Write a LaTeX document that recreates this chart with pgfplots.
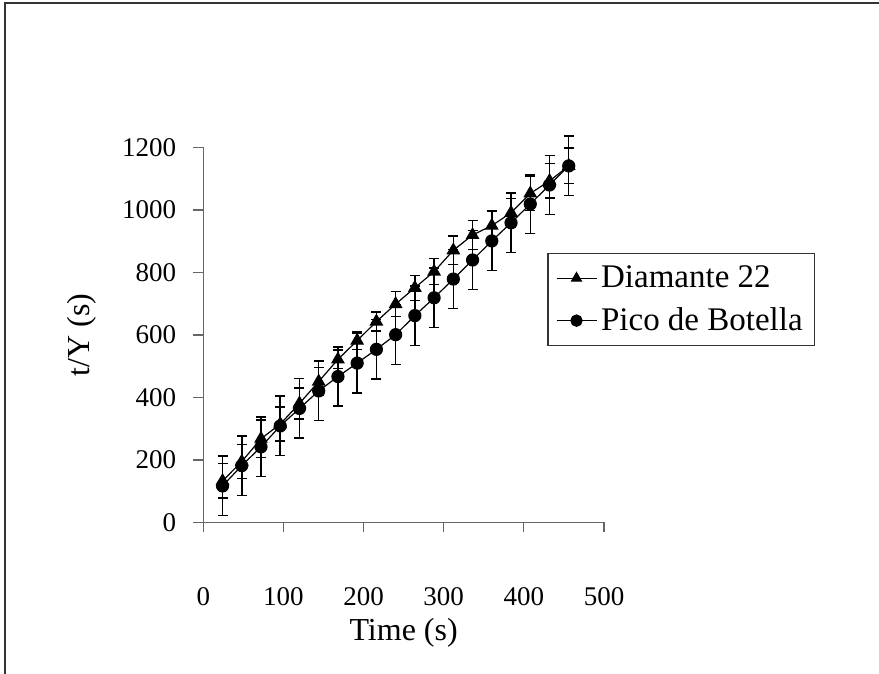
\documentclass[border=0pt]{standalone}
\usepackage{pgfplots}
\pgfplotsset{compat=1.18}
\usepackage{fontspec}
\setmainfont{Liberation Serif}

% Diamante 22: x, t/Y, error
\pgfplotstableread{
x y e
24 133 55
48 195 55
72 268 60
96 315 55
120 381 50
144 451 45
168 522 30
192 582 28
216 643 30
240 699 40
264 751 40
288 803 42
312 871 45
336 920 47
360 950 45
384 991 45
408 1053 55
432 1093 55
456 1141 57
}\diamante

% Pico de Botella
\pgfplotstableread{
x y e
24 117 95
48 182 95
72 242 95
96 309 95
120 365 95
144 421 95
168 467 95
192 510 95
216 554 95
240 601 95
264 662 95
288 719 95
312 779 95
336 840 95
360 901 95
384 959 95
408 1019 95
432 1080 95
456 1141 95
}\pico

\begin{document}
\begin{tikzpicture}
\draw[line width=1pt, black!80] (2.5pt,-5pt) -- (2.5pt,335.5pt) -- (445pt,335.5pt);
\begin{axis}[
  at={(101.65pt,75.75pt)}, anchor=origin,
  scale only axis, width=200.35pt, height=187.5pt,
  xmin=0, xmax=500, ymin=0, ymax=1200,
  xtick={0,100,...,500}, ytick={0,200,...,1200},
  axis x line*=bottom, axis y line*=left,
  axis line style={black!60, line width=0.6pt, -},
  tick style={black!60, line width=0.6pt},
  tick align=outside, major tick length=5pt,
  /pgf/number format/assume math mode=true,
  /pgf/number format/1000 sep={},
  tick label style={font=\fontsize{13.5}{16}\selectfont, black},
  xticklabel style={anchor=center, yshift=-32pt},
  yticklabel style={anchor=east, xshift=-5pt},
  xlabel={Time (s)}, ylabel={t/Y (s)},
  label style={font=\fontsize{16}{19}\selectfont},
  xlabel style={at={(axis description cs:0.5,-0.295)}, anchor=center},
  ylabel style={at={(axis description cs:-0.302,0.5)}, anchor=center, rotate=0},
  legend style={at={(axis description cs:0.8585,0.718)}, anchor=north west,
    draw=black!80, line width=0.6pt, font=\fontsize{16.5}{20}\selectfont,
    inner xsep=4pt, inner ysep=4pt, row sep=4.5pt},
  legend cell align=left,
  legend image code/.code={
    \draw[#1, mark repeat=2, mark phase=2, mark size=2.8pt]
      plot coordinates {(0pt,0pt) (10pt,0pt) (20pt,0pt)};},
  clip=false,
]
\addplot[black, line width=0.6pt, mark=triangle*, mark size=3.4pt,
  error bars/.cd, y dir=both, y explicit,
  error bar style={black, line width=0.75pt},
  error mark options={rotate=90, mark size=2.5pt, line width=0.75pt}]
  table[x=x, y=y, y error=e] {\diamante};
\addlegendentry{Diamante 22}
\addplot[black, line width=0.6pt, mark=*, mark size=3pt,
  error bars/.cd, y dir=both, y explicit,
  error bar style={black, line width=0.75pt},
  error mark options={rotate=90, mark size=2.5pt, line width=0.75pt}]
  table[x=x, y=y, y error=e] {\pico};
\addlegendentry{Pico de Botella}
\end{axis}
\pgfresetboundingbox
\useasboundingbox (0,0) rectangle (439.5pt,337pt);
\end{tikzpicture}
\end{document}
